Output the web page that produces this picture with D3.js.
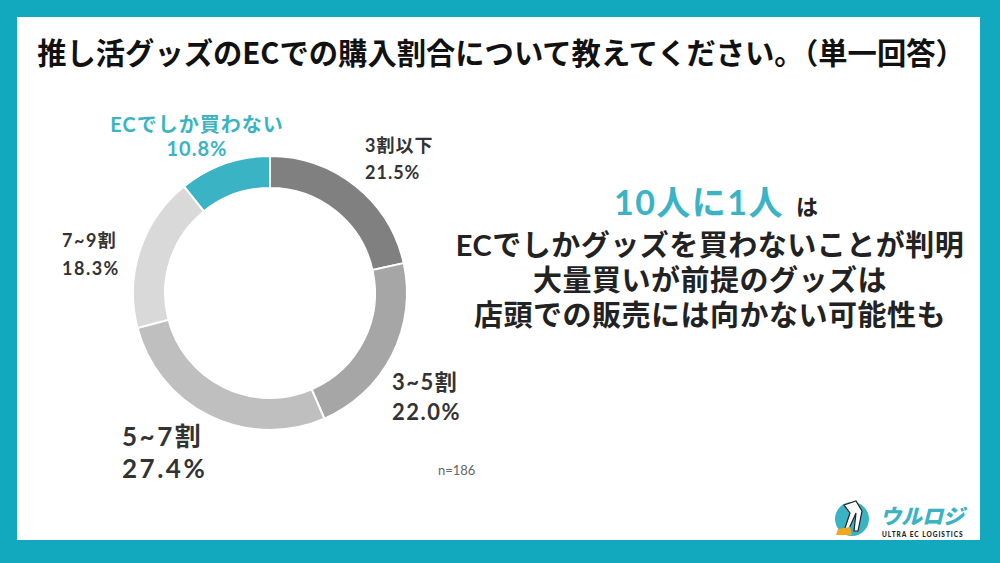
<!DOCTYPE html>
<html>
<head>
<meta charset="utf-8">
<script src="https://cdn.jsdelivr.net/npm/d3@7"></script>
<style>
  body { margin: 0; background: #fff; }
  svg { display: block; }
  text { font-family: Lato, "Noto Sans CJK JP", sans-serif; }
</style>
</head>
<body>
<div id="chart"></div>
<script>
// answers, clockwise from 12 o'clock
const categories = ['3割以下', '3~5割', '5~7割', '7~9割', 'ECでしか買わない'];
const shares = [21.5, 22.0, 27.4, 18.3, 10.8];
const sliceColors = ['#808080', '#a6a6a6', '#bfbfbf', '#d9d9d9', '#3ab3c4'];

const title = '推し活グッズのECでの購入割合について教えてください。（単一回答）';
const noteLines = ['ECでしかグッズを買わないことが判明', '大量買いが前提のグッズは', '店頭での販売には向かない可能性も'];

const width = 1000, height = 563;
const teal = '#12a9bf';

const svg = d3.select('#chart').append('svg')
    .attr('width', width).attr('height', height);

// frame
svg.append('rect').attr('width', width).attr('height', height).attr('fill', teal);
svg.append('rect').attr('x', 17).attr('y', 17).attr('width', 963).attr('height', 523).attr('fill', '#fff');

svg.append('text')
    .attr('x', 501).attr('y', 64)
    .attr('text-anchor', 'middle')
    .attr('font-size', 29.3).attr('font-weight', 700)
    .attr('fill', '#111')
    .style('font-family', '"Noto Sans CJK JP", sans-serif')
    .text(title);

// donut
const cx = 270, cy = 293, rOuter = 137, rInner = 105;
const pie = d3.pie().sort(null).value(d => d.value);
const arc = d3.arc().innerRadius(rInner).outerRadius(rOuter);
const data = categories.map((c, i) => ({name: c, value: shares[i], color: sliceColors[i]}));

const donut = svg.append('g').attr('transform', 'translate(' + cx + ',' + cy + ')');
donut.selectAll('path')
    .data(pie(data))
    .join('path')
    .attr('d', arc)
    .attr('fill', d => d.data.color)
    .attr('stroke', '#fff')
    .attr('stroke-width', 2);

// labels: [x, y of first line, font size, anchor, line gap, letter spacing]
const labelPos = [
    [365, 152, 18, 'start', 27, 1],
    [392, 390, 22, 'start', 30, 1.5],
    [122, 446, 26, 'start', 32, 2.5],
    [62, 247, 18, 'start', 28, 1.5],
    [197, 132, 20, 'middle', 24, 1]
];
const labels = svg.append('g');
data.forEach((d, i) => {
    const p = labelPos[i];
    const color = i === 4 ? '#3ab3c4' : '#333';
    const t = labels.append('text')
        .attr('x', p[0]).attr('y', p[1])
        .attr('text-anchor', p[3])
        .attr('font-size', p[2]).attr('font-weight', 700)
        .attr('letter-spacing', p[5])
        .attr('fill', color);
    t.append('tspan').attr('x', p[0]).text(d.name);
    t.append('tspan').attr('x', p[0]).attr('dy', p[4]).text(d3.format('.1f')(d.value) + '%');
});

svg.append('text')
    .attr('x', 438).attr('y', 475)
    .attr('font-size', 13).attr('fill', '#666')
    .text('n=186');

// right-hand message
const msg = svg.append('text')
    .attr('x', 716).attr('y', 215)
    .attr('text-anchor', 'middle')
    .attr('font-weight', 700);
msg.append('tspan').attr('font-size', 34).attr('letter-spacing', 1.5).attr('fill', '#3ab3c4').text('10人に1人');
msg.append('tspan').attr('font-size', 22).attr('fill', '#222').attr('dx', 12).text('は');

svg.append('g').selectAll('text')
    .data(noteLines)
    .join('text')
    .attr('x', 710)
    .attr('y', (d, i) => 256 + i * 35)
    .attr('text-anchor', 'middle')
    .attr('font-size', 29).attr('font-weight', 700)
    .attr('letter-spacing', 0.5)
    .attr('fill', '#222')
    .text(d => d);

// logo
const logo = svg.append('g').attr('transform', 'translate(852,519)');
logo.append('circle').attr('r', 17).attr('fill', '#3ab3c4');
logo.append('path').attr('d', 'M-8,-14 L4,-18 L10,-8 L6,12 L2,12 L4,-6 L-4,12 L-8,12 L-2,-6 Z')
    .attr('fill', '#fff').attr('stroke', '#222').attr('stroke-width', 1.2);
logo.append('path').attr('d', 'M-14,10 L-2,8 L0,16 L-16,16 Z').attr('fill', '#f0a820');
svg.append('text')
    .attr('x', 880).attr('y', 524)
    .attr('font-size', 21).attr('font-weight', 900).attr('font-style', 'italic')
    .attr('fill', '#3ab3c4')
    .style('font-family', '"Noto Sans CJK JP", sans-serif')
    .text('ウルロジ');
svg.append('text')
    .attr('x', 882).attr('y', 537)
    .attr('font-size', 6.5).attr('font-weight', 900)
    .attr('letter-spacing', 1)
    .attr('fill', '#222')
    .text('ULTRA EC LOGISTICS');
</script>
</body>
</html>
